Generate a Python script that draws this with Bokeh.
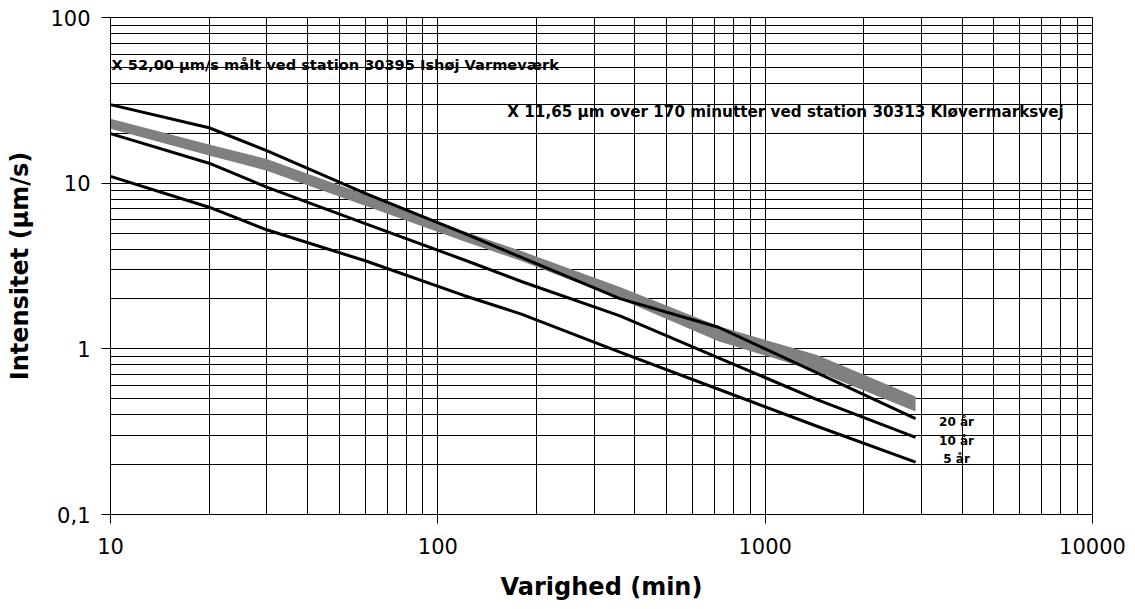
from bokeh.plotting import figure
from bokeh.models import FixedTicker, CustomJSTickFormatter, Label
from bokeh.core.properties import value
from bokeh.embed import file_html
from bokeh.resources import INLINE

# ---- data ----
durations = [10, 20, 30, 60, 120, 180, 360, 720, 1440, 2880]
i20 = [29.8, 21.6, 15.7, 8.68, 4.99, 3.56, 2.01, 1.35, 0.716, 0.379]
i10 = [19.9, 13.2, 9.46, 5.70, 3.45, 2.55, 1.58, 0.883, 0.494, 0.292]
i5 = [11.0, 7.16, 5.23, 3.40, 2.10, 1.62, 0.955, 0.570, 0.341, 0.207]
meas_upper = [24.5, 17.1, 14.0, 8.55, 5.12, 3.89, 2.36, 1.37, 0.918, 0.515]
meas_lower = [21.3, 14.7, 11.9, 7.30, 4.46, 3.39, 2.00, 1.11, 0.731, 0.418]
curve_labels = ["20 år", "10 år", "5 år"]

note_x = [10, 170]
note_y = [52, 27]
note_text = ["X 52,00 µm/s målt ved station 30395 Ishøj Varmeværk",
             "X 11,65 µm over 170 minutter ved station 30313 Kløvermarksvej"]

x_major = [10, 100, 1000, 10000]
y_major = [0.1, 1, 10, 100]

# ---- figure ----
p = figure(width=1135, height=609, x_axis_type="log", y_axis_type="log",
           x_range=(10, 10000), y_range=(0.1, 100),
           output_backend="svg", toolbar_location=None,
           min_border_left=110, min_border_right=43,
           min_border_top=17, min_border_bottom=95)
p.background_fill_color = "white"
p.border_fill_color = "white"
p.outline_line_color = "black"
p.outline_line_width = 1

x_minor = [d * m for d in x_major[:-1] for m in range(2, 10)]
y_minor = [d * m for d in y_major[:-1] for m in range(2, 10)]
p.xaxis.ticker = FixedTicker(ticks=x_major, minor_ticks=x_minor)
p.yaxis.ticker = FixedTicker(ticks=y_major, minor_ticks=y_minor)
p.xgrid.ticker = p.xaxis.ticker
p.ygrid.ticker = p.yaxis.ticker

fmt = CustomJSTickFormatter(code="return String(tick).replace('.', ',');")
p.xaxis.formatter = fmt
p.yaxis.formatter = fmt

for g in (p.xgrid, p.ygrid):
    g.grid_line_color = "black"
    g.grid_line_width = 1
    g.minor_grid_line_color = "black"
    g.minor_grid_line_width = 1

for ax in (p.xaxis, p.yaxis):
    ax.axis_line_color = "black"
    ax.axis_line_width = 1
    ax.major_tick_in = 0
    ax.major_tick_out = 9
    ax.minor_tick_in = 0
    ax.minor_tick_out = 0
    ax.major_tick_line_color = "black"
    ax.major_label_text_font = "DejaVu Sans"
    ax.major_label_text_font_size = "21px"
    ax.major_label_text_color = "black"
    ax.axis_label_text_font = "DejaVu Sans"
    ax.axis_label_text_font_style = "bold"
    ax.axis_label_text_font_size = "24px"
    ax.axis_label_text_color = "black"

p.yaxis.axis_label = "Intensitet (µm/s)"
p.xaxis.axis_label = "Varighed (min)"
p.yaxis.major_label_standoff = 11
p.yaxis.axis_label_standoff = 13
p.xaxis.major_label_standoff = 14
p.xaxis.axis_label_standoff = 16
p.yaxis.major_label_orientation = "horizontal"

# annotations, drawn beneath the grid like the original
note_sizes = ["14.6px", "15.2px"]
note_shift = [1, -6]
for nx, ny, nt, fs, xo in zip(note_x, note_y, note_text, note_sizes, note_shift):
    p.add_layout(Label(x=nx, y=ny, text=nt, level="image",
                       text_font="DejaVu Sans", text_font_style="bold",
                       text_font_size=fs, text_color="black",
                       text_align="left", text_baseline="middle",
                       x_offset=xo))

# measured band
p.varea(x=durations, y1=meas_lower, y2=meas_upper, fill_color="#808080")

# return-period curves
for vals in (i20, i10, i5):
    p.line(durations, vals, line_color="black", line_width=3)

# curve labels at the end of each curve
ends = [i20[-1], i10[-1], i5[-1]]
yoffs = [3, 4, -3]
for lab, yv, yo in zip(curve_labels, ends, yoffs):
    p.text([durations[-1]], [yv], text=[lab],
           text_font=value("DejaVu Sans"), text_font_style="bold",
           text_font_size="12px", text_color="black",
           text_align="center", text_baseline="middle",
           x_offset=41, y_offset=yo)

open("out.html", "w").write(file_html(p, INLINE))
